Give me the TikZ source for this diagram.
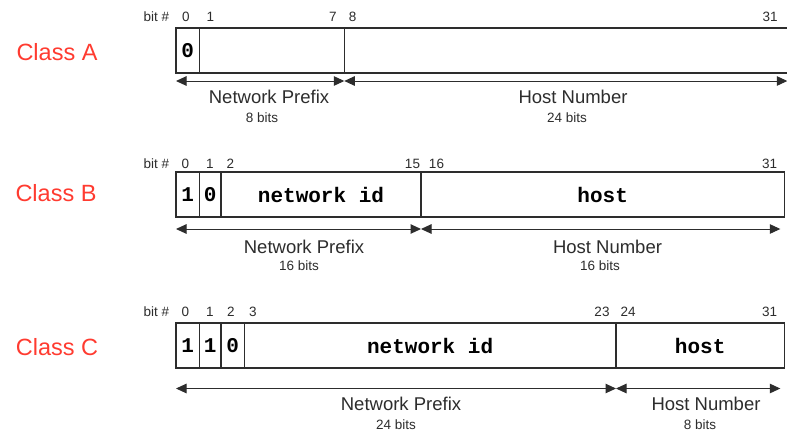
\documentclass[tikz,border=0pt]{standalone}
\usepackage{fontspec}
\setmainfont{Liberation Sans}
\setmonofont{Liberation Mono}
\usetikzlibrary{arrows.meta,positioning}

\definecolor{classred}{RGB}{255,59,48}
\definecolor{ink}{RGB}{45,45,45}

\tikzset{
	field/.style={draw=ink, line width=1.1pt, minimum height=45pt, inner sep=0pt, outer sep=0pt,
		font=\fontsize{21}{21}\selectfont\ttfamily\bfseries},
	classlbl/.style={text=classred, font=\fontsize{23.5}{23.5}\selectfont},
	bitno/.style={text=ink, inner sep=0pt, font=\fontsize{13.5}{13.5}\selectfont},
	span/.style={draw=ink, line width=1pt, {Triangle[length=10.5pt,width=9.5pt]}-{Triangle[length=10.5pt,width=9.5pt]}},
	spanlbl/.style={text=ink, inner sep=0pt, font=\fontsize{18.5}{18.5}\selectfont},
	bitslbl/.style={text=ink, inner sep=0pt, font=\fontsize{13.5}{13.5}\selectfont}
}

\begin{document}
\begin{tikzpicture}[x=1pt,y=-1pt]
	\clip (0,0) rectangle (787,432);
	\fill[white] (0,0) rectangle (787,432);

	% class A
	\node[classlbl] (clsA) at (57,52) {Class A};
	\node[bitno] (bitA) at (156.5,17) {bit \#};
	\node[bitno] (bA0) at (186,17) {0};
	\node[bitno] (bA1) at (210.5,17) {1};
	\node[bitno] (bA7) at (333,17) {7};
	\node[bitno] (bA8) at (352.5,17) {8};
	\node[bitno] (bA31) at (770,17) {31};
	\node[field, minimum width=23.3pt, anchor=west] (a0) at (176,50.5) {0};
	\node[field, minimum width=145pt, right=0pt of a0] (a1) {};
	\node[field, minimum width=446pt, right=0pt of a1] (a2) {};
	\coordinate (aL) at ([yshift=-8pt]a0.south west);
	\coordinate (aM) at ([yshift=-8pt]a1.south east);
	\coordinate (aR) at ([xshift=-3pt,yshift=-8pt]a2.south east);
	\draw[span] (aL) -- (aM);
	\draw[span] (aM) -- (aR);
	\node[spanlbl] (npA) at (269,97) {Network Prefix};
	\node[bitslbl] (nbA) at (262,118) {8 bits};
	\node[spanlbl] (hnA) at (573,97) {Host Number};
	\node[bitslbl] (hbA) at (567,118) {24 bits};

	% class B
	\node[classlbl] (clsB) at (56,193) {Class B};
	\node[bitno] (bitB) at (156.5,164) {bit \#};
	\node[bitno] (bB0) at (185.5,164) {0};
	\node[bitno] (bB1) at (210,164) {1};
	\node[bitno] (bB2) at (230.5,164) {2};
	\node[bitno] (bB15) at (412.5,164) {15};
	\node[bitno] (bB16) at (436.5,164) {16};
	\node[bitno] (bB31) at (769.5,164) {31};
	\node[field, minimum width=23.3pt, anchor=west] (b0) at (176,194.5) {1};
	\node[field, minimum width=21.7pt, right=0pt of b0] (b1) {0};
	\node[field, minimum width=200pt, right=0pt of b1] (b2) {network id};
	\node[field, minimum width=363.3pt, right=0pt of b2] (b3) {host};
	\coordinate (bL) at ([yshift=-12pt]b0.south west);
	\coordinate (bM) at ([yshift=-12pt]b2.south east);
	\coordinate (bR) at ([xshift=-4pt,yshift=-12pt]b3.south east);
	\draw[span] (bL) -- (bM);
	\draw[span] (bM) -- (bR);
	\node[spanlbl] (npB) at (304,246.5) {Network Prefix};
	\node[bitslbl] (nbB) at (299,266) {16 bits};
	\node[spanlbl] (hnB) at (607.5,246.5) {Host Number};
	\node[bitslbl] (hbB) at (600,266) {16 bits};

	% class C
	\node[classlbl] (clsC) at (57,347) {Class C};
	\node[bitno] (bitC) at (156.5,312) {bit \#};
	\node[bitno] (bC0) at (185.5,312) {0};
	\node[bitno] (bC1) at (210,312) {1};
	\node[bitno] (bC2) at (231,312) {2};
	\node[bitno] (bC3) at (253,312) {3};
	\node[bitno] (bC23) at (602,312) {23};
	\node[bitno] (bC24) at (628,312) {24};
	\node[bitno] (bC31) at (769.5,312) {31};
	\node[field, minimum width=23.3pt, anchor=west] (c0) at (176,345.5) {1};
	\node[field, minimum width=21.7pt, right=0pt of c0] (c1) {1};
	\node[field, minimum width=23.3pt, right=0pt of c1] (c2) {0};
	\node[field, minimum width=371.7pt, right=0pt of c2] (c3) {network id};
	\node[field, minimum width=168.3pt, right=0pt of c3] (c4) {host};
	\coordinate (cL) at ([yshift=-20.5pt]c0.south west);
	\coordinate (cM) at ([yshift=-20.5pt]c3.south east);
	\coordinate (cR) at ([xshift=-4pt,yshift=-20.5pt]c4.south east);
	\draw[span] (cL) -- (cM);
	\draw[span] (cM) -- (cR);
	\node[spanlbl] (npC) at (401,404) {Network Prefix};
	\node[bitslbl] (nbC) at (396,425) {24 bits};
	\node[spanlbl] (hnC) at (706,404) {Host Number};
	\node[bitslbl] (hbC) at (700,425) {8 bits};
\end{tikzpicture}
\end{document}
